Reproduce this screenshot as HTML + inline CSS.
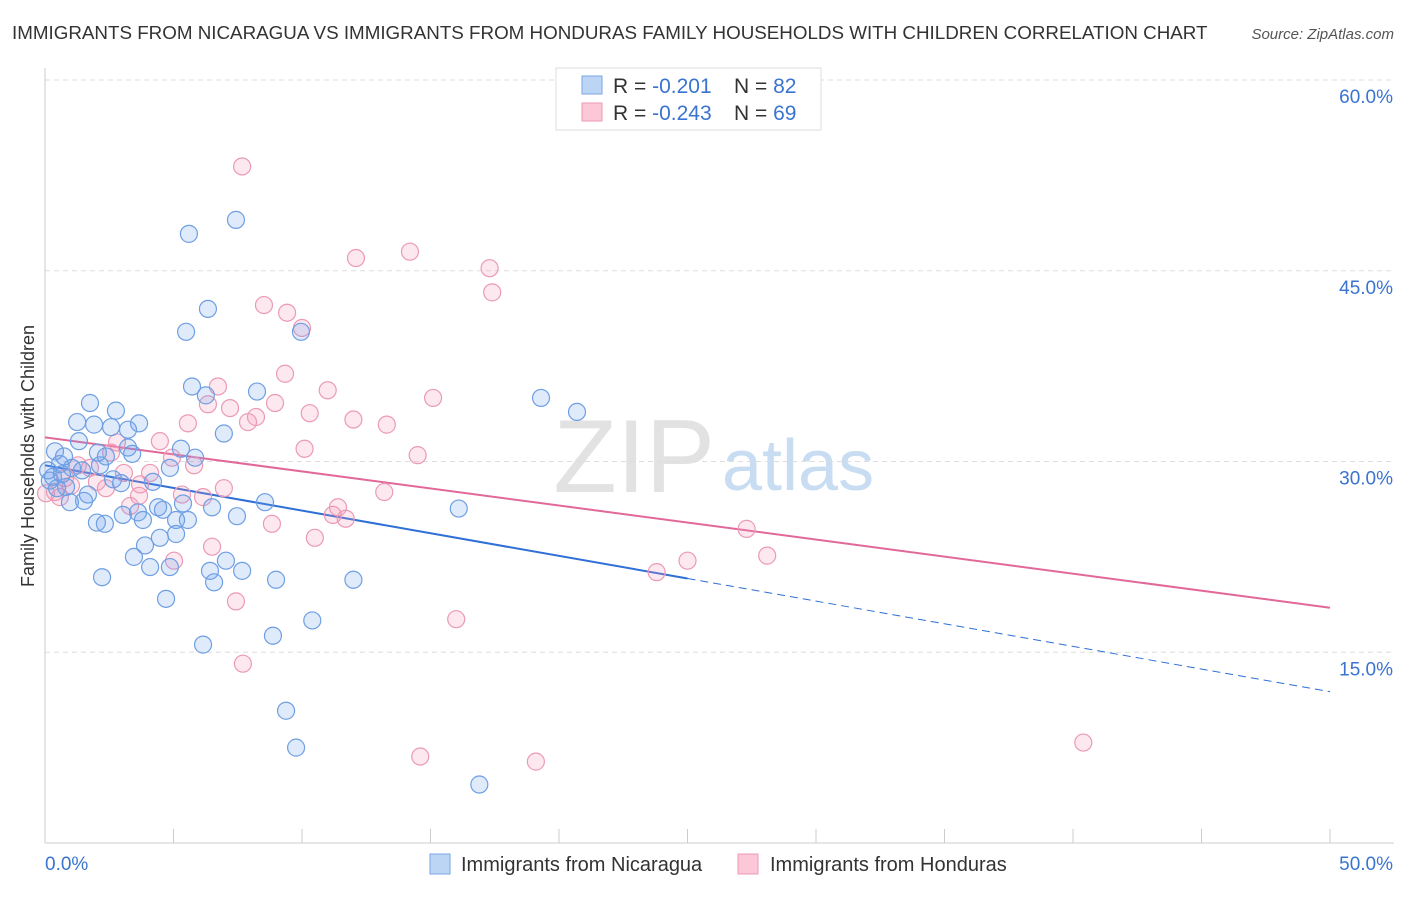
<!DOCTYPE html>
<html><head><meta charset="utf-8"><style>
body{margin:0;background:#fff;font-family:"Liberation Sans",sans-serif}
svg text{font-family:"Liberation Sans",sans-serif}
</style></head><body>
<svg id="c" width="1406" height="892">
<text x="12" y="39" font-size="18.8" fill="#333">IMMIGRANTS FROM NICARAGUA VS IMMIGRANTS FROM HONDURAS FAMILY HOUSEHOLDS WITH CHILDREN CORRELATION CHART</text>
<text x="1394" y="39" font-size="15" fill="#555" font-style="italic" text-anchor="end">Source: ZipAtlas.com</text>
<text x="715" y="492" font-size="104" fill="#e2e2e2" text-anchor="end" font-family="Liberation Serif">ZIP</text>
<text x="722" y="490" font-size="72" fill="#c8dcf2">atlas</text>
<text transform="translate(34,456) rotate(-90)" font-size="18" fill="#333" text-anchor="middle">Family Households with Children</text>
<g id="grid"></g><g id="axes"></g><g id="lines"></g><g id="pts"></g>
<g>
<rect x="556" y="68" width="265" height="62" fill="#fff" stroke="#ddd"/>
<rect x="582" y="76" width="20" height="18" fill="#bcd5f5" stroke="#7aa6e6"/>
<rect x="582" y="103" width="20" height="18" fill="#fcc8d8" stroke="#ec9ab5"/>
<text x="613" y="93" font-size="21" fill="#333">R = <tspan fill="#3a74d0">-0.201</tspan><tspan x="734">N = </tspan><tspan fill="#3a74d0">82</tspan></text>
<text x="613" y="120" font-size="21" fill="#333">R = <tspan fill="#3a74d0">-0.243</tspan><tspan x="734">N = </tspan><tspan fill="#3a74d0">69</tspan></text>
</g>
<g>
<rect x="430" y="854" width="20" height="20" fill="#bcd5f5" stroke="#7aa6e6"/>
<text x="461" y="871" font-size="20" fill="#333">Immigrants from Nicaragua</text>
<rect x="738" y="854" width="20" height="20" fill="#fcc8d8" stroke="#ec9ab5"/>
<text x="770" y="871" font-size="20" fill="#333">Immigrants from Honduras</text>
</g>
</svg>
<script>
const yTicks=[15,30,45,60];
const xTickLabels=["0.0%","50.0%"];
const blueX=[7.43,5.6,6.34,5.49,9.96,5.72,8.25,6.26,19.3,20.7,1.75,2.76,1.25,1.91,2.57,3.66,3.23,6.96,1.32,5.29,3.23,0.39,0.74,2.06,2.37,3.39,5.84,4.86,1.05,1.44,0.31,0.66,0.12,0.47,2.65,2.96,4.2,1.67,0.97,1.52,8.56,5.37,6.5,4.4,4.59,3.03,3.62,7.47,16.1,2.02,2.33,3.81,5.1,5.56,5.1,4.47,3.89,3.46,7.04,4.09,4.86,6.42,7.67,2.22,6.58,8.99,12.0,4.71,10.4,8.87,6.15,9.38,9.77,16.9,0.58,0.19,0.82,2.14];
const blueY=[49.0,47.9,42.0,40.2,40.2,35.9,35.5,35.2,35.0,33.9,34.6,34.0,33.1,32.9,32.7,33.0,32.5,32.2,31.6,31.0,31.1,30.8,30.4,30.7,30.4,30.6,30.3,29.5,29.5,29.3,28.8,29.0,29.3,27.9,28.6,28.3,28.4,27.4,26.8,26.9,26.8,26.7,26.4,26.4,26.2,25.8,26.0,25.7,26.3,25.2,25.1,25.4,25.4,25.4,24.3,24.0,23.4,22.5,22.2,21.7,21.7,21.4,21.4,20.9,20.5,20.7,20.7,19.2,17.5,16.3,15.6,10.4,7.5,4.6,29.8,28.5,28.0,29.7];
const pinkX=[7.67,12.1,14.2,17.3,17.4,8.52,9.42,10.0,6.73,9.34,11.0,15.1,6.34,7.2,8.95,8.21,10.3,12.0,13.3,5.56,4.47,2.8,10.1,14.5,2.57,4.94,5.8,1.28,1.75,4.09,3.07,0.78,2.02,3.7,6.96,2.37,0.39,13.2,5.33,3.66,6.15,0.58,11.4,11.2,11.7,8.83,10.5,27.3,6.5,28.1,25.0,5.02,23.8,7.43,16.0,7.7,40.4,14.6,19.1,0.04,1.01,3.31,7.9];
const pinkY=[53.2,46.0,46.5,45.2,43.3,42.3,41.7,40.5,35.9,36.9,35.6,35.0,34.5,34.2,34.6,33.5,33.8,33.3,32.9,33.0,31.6,31.5,31.0,30.5,30.7,30.3,29.7,29.7,29.5,29.1,29.1,28.7,28.4,28.2,27.9,27.9,27.6,27.6,27.4,27.3,27.2,27.2,26.4,25.8,25.5,25.1,24.0,24.7,23.3,22.6,22.2,22.2,21.3,19.0,17.6,14.1,7.9,6.8,6.4,27.5,28.1,26.5,33.1];
const blueTrend=[29.7,-0.356];
const pinkTrend=[31.9,-0.268];
const X=v=>45+v/50*1285, Y=v=>843-v/60*763;
const NS="http://www.w3.org/2000/svg";
function mk(p,t,a){const e=document.createElementNS(NS,t);for(const k in a)e.setAttribute(k,a[k]);p.appendChild(e);return e;}
const grid=document.getElementById('grid'),axes=document.getElementById('axes');
yTicks.forEach(t=>{
 const l=mk(grid,'line',{x1:45,x2:1394,y1:Y(t),y2:Y(t),stroke:'#ddd','stroke-dasharray':'5,4'});
 
 
 const tx=mk(grid,'text',{x:1393,y:Y(t)+23,'font-size':19,fill:'#3a74d0','text-anchor':'end'});tx.textContent=t.toFixed(1)+'%';
 
 
});
mk(axes,'line',{x1:45,x2:45,y1:68,y2:843,stroke:'#ccc'});
mk(axes,'line',{x1:45,x2:1394,y1:843,y2:843,stroke:'#ccc'});
for(let i=0;i<=10;i++){const t=mk(axes,'line',{x1:X(i*5),x2:X(i*5),y1:829,y2:843,stroke:'#ccc'});
 
 }
const xl0=mk(axes,'text',{x:45,y:870,'font-size':19,fill:'#3a74d0'});xl0.textContent=xTickLabels[0];


const xl1=mk(axes,'text',{x:1393,y:870,'font-size':19,fill:'#3a74d0','text-anchor':'end'});xl1.textContent=xTickLabels[1];


const pts=document.getElementById('pts');
function dots(xs,ys,fill,stroke,name){xs.forEach((x,i)=>{const c=mk(pts,'circle',{cx:X(x),cy:Y(ys[i]),r:8.5,fill:fill,stroke:stroke,'stroke-width':1.2});
 
 });}
dots(pinkX,pinkY,'rgba(245,150,180,0.22)','#eb9ab6','point-honduras');
dots(blueX,blueY,'rgba(110,160,235,0.22)','#6e9fe2','point-nicaragua');
const lines=document.getElementById('lines');
const tb=v=>blueTrend[0]+blueTrend[1]*v, tp=v=>pinkTrend[0]+pinkTrend[1]*v;
const l1=mk(lines,'line',{x1:X(0),y1:Y(tb(0)),x2:X(25),y2:Y(tb(25)),stroke:'#2f6fd6','stroke-width':2});


const l2=mk(lines,'line',{x1:X(25),y1:Y(tb(25)),x2:X(50),y2:Y(tb(50)),stroke:'#2f6fd6','stroke-width':1,'stroke-dasharray':'8,5'});


const l3=mk(lines,'line',{x1:X(0),y1:Y(tp(0)),x2:X(50),y2:Y(tp(50)),stroke:'#e2689a','stroke-width':2});


</script>
</body></html>
